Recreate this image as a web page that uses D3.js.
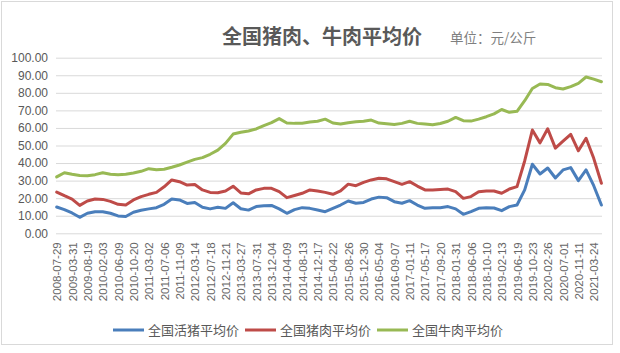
<!DOCTYPE html>
<html>
<head>
<meta charset="utf-8">
<script src="https://cdn.jsdelivr.net/npm/d3@7"></script>
<style>
  body { margin: 0; background: #fff; }
  svg { display: block; font-family: "Liberation Sans", Arial, sans-serif; }
</style>
</head>
<body>
<div id="chart"></div>
<script>
// tick labels on the category axis (one every ~18 weeks)
var dateLabels = ["2008-07-29","2009-03-31","2009-08-19","2010-02-03","2010-06-09","2010-10-20",
  "2011-03-02","2011-07-06","2011-11-09","2012-03-14","2012-07-18","2012-11-21","2013-03-27",
  "2013-07-31","2013-12-04","2014-04-09","2014-08-13","2014-12-17","2015-04-22","2015-08-26",
  "2015-12-30","2016-05-04","2016-09-07","2017-01-11","2017-05-17","2017-09-20","2018-01-31",
  "2018-06-06","2018-10-10","2019-02-13","2019-06-19","2019-10-23","2020-02-26","2020-07-01",
  "2020-11-11","2021-03-24"];

var seriesNames = ["全国活猪平均价", "全国猪肉平均价", "全国牛肉平均价"];

var livePig = [15.0,13.5,11.6,9.1,11.4,12.3,12.3,11.4,9.9,9.6,12.0,13.1,13.9,14.6,16.5,19.5,
  19.0,17.0,17.5,14.8,13.9,14.8,14.2,17.4,14.0,13.2,15.2,15.7,15.9,13.9,11.4,13.5,14.6,14.2,
  13.3,12.3,14.2,16.1,18.4,17.1,17.6,19.5,20.6,20.3,18.0,17.1,18.6,16.1,14.2,14.6,14.6,15.2,
  13.9,10.8,12.3,14.2,14.6,14.4,12.9,15.2,16.1,24.7,39.3,33.8,37.2,31.5,36.1,37.4,30.0,36.1,
  27.1,16.1];

var pork = [23.5,21.4,19.5,15.9,18.4,19.5,19.3,18.2,16.5,16.1,19.0,20.9,22.2,23.3,26.5,30.4,
  29.4,27.5,27.8,24.7,23.3,23.1,24.1,26.8,23.0,22.5,24.7,25.6,25.6,23.7,20.3,21.5,22.8,24.7,
  24.1,23.3,22.2,24.1,28.0,27.1,29.0,30.4,31.3,31.0,29.4,27.9,29.4,26.9,24.7,24.7,25.0,25.2,
  23.7,19.9,20.9,23.7,24.1,24.1,22.8,25.2,26.6,41.2,58.8,51.5,59.5,48.5,52.5,56.4,47.0,54.1,
  42.7,28.5];

var beef = [32.1,34.5,33.6,32.9,32.8,33.4,34.5,33.6,33.3,33.6,34.3,35.3,36.8,36.2,36.5,37.6,
  38.9,40.5,42.1,43.1,45.0,47.4,51.2,56.5,57.5,58.3,59.4,61.3,63.0,65.3,62.8,62.6,62.7,63.4,
  63.8,65.0,62.8,62.2,63.0,63.5,63.8,64.5,62.8,62.4,62.0,62.6,63.8,62.6,62.2,61.8,62.5,63.8,
  66.0,64.1,63.9,65.0,66.4,68.0,70.5,68.9,69.5,75.5,82.5,85.0,84.8,82.9,82.2,83.5,85.4,89.0,
  87.8,86.3];

var colors = ["#4a7ebb", "#be4b48", "#98b954"];

var W = 620, H = 353;
var margin = {top: 58, left: 56, right: 18, bottom: 120};
var step = 0.5; // samples per label interval

var svg = d3.select("#chart").append("svg")
    .attr("width", W)
    .attr("height", H);

// outer chart border
svg.append("rect")
    .attr("x", 1.5).attr("y", 1.5)
    .attr("width", 611).attr("height", 343)
    .attr("fill", "#fff")
    .attr("stroke", "#d9d9d9");

var x = d3.scaleLinear()
    .domain([0, (livePig.length - 1) * step])
    .range([56.7, 601.4]);

var y = d3.scaleLinear()
    .domain([0, 100])
    .range([233.3, 57.7]);

// y axis + gridlines
var yAxis = svg.append("g")
    .attr("transform", "translate(" + margin.left + ",0)")
    .call(d3.axisLeft(y)
        .tickValues(d3.range(0, 101, 10))
        .tickFormat(d3.format(".2f"))
        .tickSize(-(602 - margin.left))
        .tickPadding(8));
yAxis.select(".domain").remove();
yAxis.selectAll(".tick line").attr("stroke", "#d9d9d9").attr("stroke-width", 1);
yAxis.selectAll(".tick text")
    .attr("fill", "#595959")
    .style("font-size", "12px");

// x axis labels, rotated
var xAxis = svg.append("g")
    .attr("transform", "translate(0," + y(0) + ")")
    .call(d3.axisBottom(x)
        .tickValues(d3.range(dateLabels.length))
        .tickFormat(function(d) { return dateLabels[d]; })
        .tickSize(0));
xAxis.select(".domain").remove();
xAxis.selectAll(".tick text")
    .attr("fill", "#666")
    .style("font-size", "11.5px")
    .attr("text-anchor", "end")
    .attr("transform", "rotate(-90)")
    .attr("x", -9)
    .attr("y", 0)
    .attr("dy", "0.35em");

// lines
var line = d3.line()
    .x(function(d, i) { return x(i * step); })
    .y(function(d) { return y(d); });

[livePig, pork, beef].forEach(function(s, k) {
  svg.append("path")
      .datum(s)
      .attr("fill", "none")
      .attr("stroke", colors[k])
      .attr("stroke-width", 3)
      .attr("stroke-linejoin", "round")
      .attr("stroke-linecap", "round")
      .attr("d", line);
});

// title
svg.append("text")
    .attr("x", 322).attr("y", 44)
    .attr("text-anchor", "middle")
    .attr("fill", "#595959")
    .style("font-family", "'Noto Sans CJK SC', sans-serif")
    .style("font-size", "20px")
    .style("font-weight", "bold")
    .text("全国猪肉、牛肉平均价");

svg.append("text")
    .attr("x", 450).attr("y", 43)
    .attr("fill", "#7f7f7f")
    .style("font-family", "'Noto Sans CJK SC', sans-serif")
    .style("font-size", "13.5px")
    .text("单位：元/公斤");

// legend
var legendX = [113, 245, 377];
var legend = svg.append("g").attr("transform", "translate(0,330)");
seriesNames.forEach(function(name, k) {
  legend.append("line")
      .attr("x1", legendX[k]).attr("x2", legendX[k] + 31)
      .attr("y1", 0).attr("y2", 0)
      .attr("stroke", colors[k])
      .attr("stroke-width", 3);
  legend.append("text")
      .attr("x", legendX[k] + 35).attr("y", 0)
      .attr("dy", "0.35em")
      .attr("fill", "#595959")
      .style("font-family", "'Noto Sans CJK SC', sans-serif")
      .style("font-size", "13px")
      .text(name);
});
</script>
</body>
</html>
